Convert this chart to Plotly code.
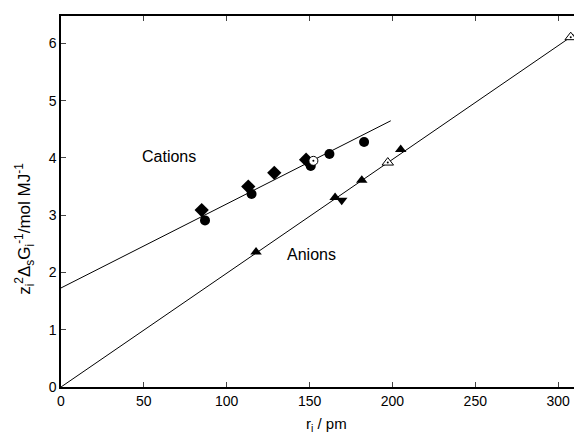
import plotly.graph_objects as go

# Cations
cat_diamond_x = [84.9, 113.0, 128.7, 147.9]
cat_diamond_y = [3.09, 3.50, 3.74, 3.97]
cat_circle_x = [86.9, 115.0, 150.7, 162.0, 182.9]
cat_circle_y = [2.91, 3.37, 3.86, 4.07, 4.28]
cat_open_x = [152.3]
cat_open_y = [3.95]
cat_fit_x = [0, 199]
cat_fit_y = [1.73, 4.65]

# Anions
an_up_x = [117.7, 165.4, 181.5, 205.0]
an_up_y = [2.36, 3.31, 3.61, 4.15]
an_down_x = [169.4]
an_down_y = [3.26]
an_open_x = [197.2, 307.6]
an_open_y = [3.92, 6.11]
an_fit_x = [0, 315]
an_fit_y = [0, 6.26]

x_ticks = [0, 50, 100, 150, 200, 250, 300]
y_ticks = [0, 1, 2, 3, 4, 5, 6]

FONT = "Liberation Sans, Arial, sans-serif"

fig = go.Figure()
fig.add_trace(go.Scatter(x=cat_fit_x, y=cat_fit_y, mode="lines",
                         line=dict(color="black", width=1), showlegend=False))
fig.add_trace(go.Scatter(x=an_fit_x, y=an_fit_y, mode="lines",
                         line=dict(color="black", width=1), showlegend=False))
fig.add_trace(go.Scatter(x=cat_diamond_x, y=cat_diamond_y, mode="markers",
                         marker=dict(symbol="diamond", size=11, color="black"), showlegend=False))
fig.add_trace(go.Scatter(x=cat_circle_x, y=cat_circle_y, mode="markers",
                         marker=dict(symbol="circle", size=10, color="black"), showlegend=False))
fig.add_trace(go.Scatter(x=cat_open_x, y=cat_open_y, mode="markers",
                         marker=dict(symbol="circle", size=9, color="white",
                                     line=dict(color="black", width=1)), showlegend=False))
fig.add_trace(go.Scatter(x=an_up_x, y=an_up_y, mode="markers",
                         marker=dict(symbol="triangle-up", size=10, color="black"), showlegend=False))
fig.add_trace(go.Scatter(x=an_down_x, y=an_down_y, mode="markers",
                         marker=dict(symbol="triangle-down", size=10, color="black"), showlegend=False))
fig.add_trace(go.Scatter(x=an_open_x, y=an_open_y, mode="markers",
                         marker=dict(symbol="triangle-up", size=10, color="white",
                                     line=dict(color="black", width=1)), showlegend=False))
# centre dots of the open symbols
fig.add_trace(go.Scatter(x=cat_open_x + an_open_x, y=cat_open_y + an_open_y, mode="markers",
                         marker=dict(symbol="circle", size=2, color="black"), showlegend=False))

fig.update_layout(
    width=574, height=428,
    margin=dict(l=53, r=0, t=8, b=49),
    paper_bgcolor="white", plot_bgcolor="white",
    font=dict(family=FONT, size=14, color="black"),
    xaxis=dict(range=[0, 314.4], tickvals=x_ticks, ticks="inside", ticklen=5,
               showline=True, linecolor="black", linewidth=1.5, mirror="ticks",
               showgrid=False, zeroline=False, tickfont=dict(size=14)),
    yaxis=dict(range=[0, 6.48], tickvals=y_ticks, ticks="inside", ticklen=5,
               showline=True, linecolor="black", linewidth=1.5,
               showgrid=False, zeroline=False, tickfont=dict(size=14)),
    annotations=[
        dict(x=65.4, y=4.02, xref="x", yref="y", text="Cations", showarrow=False,
             font=dict(size=16)),
        dict(x=151.3, y=2.32, xref="x", yref="y", text="Anions", showarrow=False,
             font=dict(size=16)),
        dict(x=0.51, y=-0.1, xref="paper", yref="paper", text="r<sub>i</sub> / pm",
             showarrow=False, yanchor="middle", font=dict(size=15)),
        dict(x=-0.07, y=0.425, xref="paper", yref="paper",
             text="z<sub>i</sub><sup>2</sup>Δ<sub>s</sub>G<sub>i</sub><sup>-1</sup>/mol MJ<sup>-1</sup>",
             showarrow=False, textangle=-90, xanchor="center", yanchor="middle", font=dict(size=17)),
    ],
)

fig.write_html("out.html")
